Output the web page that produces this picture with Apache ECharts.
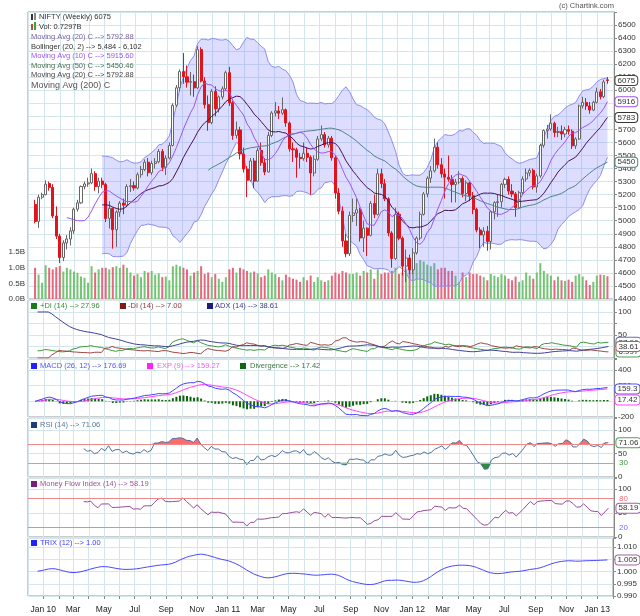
<!DOCTYPE html>
<html><head><meta charset="utf-8">
<script src="https://cdn.jsdelivr.net/npm/echarts@6/dist/echarts.min.js"></script>
<style>html,body{margin:0;padding:0;background:#fff}#c{width:640px;height:616px}</style>
</head><body><div id="c"></div>
<script>
// ---- weekly data (week start dates) ----
const dates = [
'2009-12-14','2009-12-21','2009-12-28',
'2010-01-04','2010-01-11','2010-01-18','2010-01-25','2010-02-01','2010-02-08','2010-02-15','2010-02-22','2010-03-01','2010-03-08','2010-03-15','2010-03-22','2010-03-29','2010-04-05','2010-04-12','2010-04-19','2010-04-26','2010-05-03','2010-05-10','2010-05-17','2010-05-24','2010-05-31','2010-06-07','2010-06-14','2010-06-21','2010-06-28','2010-07-05','2010-07-12','2010-07-19','2010-07-26','2010-08-02','2010-08-09','2010-08-16','2010-08-23','2010-08-30','2010-09-06','2010-09-13','2010-09-20','2010-09-27','2010-10-04','2010-10-11','2010-10-18','2010-10-25','2010-11-01','2010-11-08','2010-11-15','2010-11-22','2010-11-29','2010-12-06','2010-12-13','2010-12-20','2010-12-27',
'2011-01-03','2011-01-10','2011-01-17','2011-01-24','2011-01-31','2011-02-07','2011-02-14','2011-02-21','2011-02-28','2011-03-07','2011-03-14','2011-03-21','2011-03-28','2011-04-04','2011-04-11','2011-04-18','2011-04-25','2011-05-02','2011-05-09','2011-05-16','2011-05-23','2011-05-30','2011-06-06','2011-06-13','2011-06-20','2011-06-27','2011-07-04','2011-07-11','2011-07-18','2011-07-25','2011-08-01','2011-08-08','2011-08-15','2011-08-22','2011-08-29','2011-09-05','2011-09-12','2011-09-19','2011-09-26','2011-10-03','2011-10-10','2011-10-17','2011-10-24','2011-10-31','2011-11-07','2011-11-14','2011-11-21','2011-11-28','2011-12-05','2011-12-12','2011-12-19','2011-12-26',
'2012-01-02','2012-01-09','2012-01-16','2012-01-23','2012-01-30','2012-02-06','2012-02-13','2012-02-20','2012-02-27','2012-03-05','2012-03-12','2012-03-19','2012-03-26','2012-04-02','2012-04-09','2012-04-16','2012-04-23','2012-04-30','2012-05-07','2012-05-14','2012-05-21','2012-05-28','2012-06-04','2012-06-11','2012-06-18','2012-06-25','2012-07-02','2012-07-09','2012-07-16','2012-07-23','2012-07-30','2012-08-06','2012-08-13','2012-08-20','2012-08-27','2012-09-03','2012-09-10','2012-09-17','2012-09-24','2012-10-01','2012-10-08','2012-10-15','2012-10-22','2012-10-29','2012-11-05','2012-11-12','2012-11-19','2012-11-26','2012-12-03','2012-12-10','2012-12-17','2012-12-24','2012-12-31',
'2013-01-07','2013-01-14','2013-01-21'];

const open = [
5125,4995,5180,5200,5285,5255,5036,4882,4718,4830,
4860,4922,5088,5137,5262,5282,5290,5361,5262,5304,
5278,5018,5094,4931,5066,5135,5119,5262,5269,5251,
5353,5393,5449,5368,5439,5452,5531,5409,5480,5577,
5885,6019,6143,6103,6062,6066,6018,6312,6071,5890,
5752,5992,5857,5949,6011,6135,5904,5654,5696,5512,
5396,5310,5458,5303,5538,5445,5374,5654,5826,5842,
5824,5851,5749,5551,5544,5486,5476,5517,5486,5366,
5471,5627,5660,5581,5633,5482,5212,5073,4845,4747,
5040,5059,5084,4868,4943,4888,5132,5049,5360,5284,
5168,4906,4710,5050,4866,4652,4714,4624,4754,4867,
5049,5205,5326,5382,5564,5429,5359,5334,5318,5278,
5296,5323,5208,5290,5191,5087,4929,4891,4920,4841,
5068,5139,5146,5279,5317,5227,5205,5100,5215,5320,
5366,5387,5259,5343,5578,5691,5703,5747,5676,5684,
5665,5698,5686,5574,5627,5880,5907,5880,5848,5908,
5988,5951,6080];
const high = [
5160,5200,5215,5310,5300,5280,5110,4900,4850,4890,
4950,5100,5160,5270,5300,5330,5400,5380,5330,5330,
5290,5150,5100,5080,5150,5170,5280,5320,5300,5370,
5420,5470,5480,5460,5480,5550,5550,5500,5600,5900,
6040,6160,6285,6190,6140,6120,6338,6330,6100,5960,
6010,6030,5960,6030,6150,6180,5920,5760,5720,5560,
5420,5480,5480,5560,5600,5480,5680,5840,5910,5880,
5945,5860,5760,5600,5560,5520,5600,5560,5500,5500,
5650,5730,5680,5650,5650,5500,5250,5110,4900,5070,
5170,5170,5100,5000,4950,5150,5200,5400,5400,5320,
5180,4920,5100,5070,4880,4780,4740,4790,4880,5070,
5220,5340,5420,5630,5600,5480,5400,5500,5350,5320,
5380,5340,5310,5300,5220,5100,4950,4950,4960,5080,
5150,5200,5290,5330,5340,5280,5220,5230,5340,5400,
5400,5400,5360,5590,5700,5735,5815,5760,5720,5730,
5720,5730,5700,5640,5890,5950,5940,5910,5920,6020,
6010,6080,6101];
const low = [
4980,4945,5165,5195,5230,5020,4860,4675,4690,4780,
4810,4900,5070,5130,5240,5260,5280,5230,5210,5250,
4990,4940,4786,4800,5030,5050,5110,5220,5230,5240,
5330,5380,5340,5350,5400,5440,5380,5350,5470,5570,
5870,5990,6050,6020,5960,5950,6010,6060,5860,5690,
5740,5800,5830,5930,6000,5880,5620,5630,5470,5370,
5180,5300,5250,5300,5420,5350,5370,5640,5800,5780,
5810,5720,5530,5450,5330,5400,5460,5450,5200,5340,
5460,5610,5560,5560,5460,5170,5050,4800,4720,4730,
4990,4960,4840,4760,4730,4880,5020,5040,5250,5150,
4880,4640,4700,4850,4580,4531,4590,4590,4740,4850,
5040,5180,5290,5370,5400,5330,5170,5300,5140,5140,
5280,5180,5150,5150,5050,4910,4790,4800,4770,4780,
5010,5030,5100,5250,5200,5180,5030,5090,5200,5300,
5340,5240,5215,5330,5560,5630,5690,5640,5640,5620,
5640,5660,5550,5550,5620,5860,5850,5820,5840,5900,
5930,5940,6050];
const close = [
4995,5180,5200,5280,5255,5036,4882,4718,4830,4860,
4922,5088,5137,5262,5282,5290,5361,5262,5304,5278,
5018,5094,4931,5066,5135,5119,5262,5269,5251,5353,
5393,5449,5368,5439,5452,5531,5409,5480,5577,5885,
6019,6143,6103,6062,6066,6018,6312,6071,5890,5752,
5992,5857,5949,6011,6135,5904,5654,5696,5512,5396,
5310,5458,5303,5538,5445,5374,5654,5826,5842,5824,
5851,5749,5551,5544,5486,5476,5517,5486,5366,5471,
5627,5660,5581,5633,5482,5212,5073,4845,4747,5040,
5059,5084,4868,4943,4888,5132,5049,5360,5284,5168,
4906,4710,5050,4866,4652,4714,4624,4754,4867,5049,
5205,5326,5382,5564,5429,5359,5334,5318,5278,5296,
5323,5208,5290,5191,5087,4929,4891,4920,4841,5068,
5139,5146,5279,5317,5227,5205,5100,5215,5320,5366,
5387,5259,5343,5578,5691,5703,5747,5676,5684,5665,
5698,5686,5574,5627,5880,5907,5880,5848,5908,5988,
5951,6064,6075];
// volume in billions
const volume = [
1.00,0.78,0.52,1.08,1.00,0.95,1.02,1.06,0.88,1.00,
0.95,0.88,0.84,0.72,0.68,0.52,1.05,0.85,0.95,1.00,
1.00,0.95,1.02,1.05,1.00,1.10,1.00,0.85,0.75,0.80,
0.70,0.90,0.85,0.90,0.78,0.82,0.70,0.72,0.60,1.05,
1.10,1.05,1.00,0.95,0.75,0.85,0.90,1.05,0.80,0.85,
0.70,0.80,0.65,0.55,0.70,0.95,1.00,0.85,1.00,0.95,
0.90,0.85,0.88,0.82,0.70,0.75,0.95,0.85,0.80,0.70,
0.60,0.78,0.70,0.65,0.62,0.55,0.70,0.60,0.75,0.55,
0.70,0.60,0.55,0.60,0.75,0.85,0.80,0.90,0.85,0.80,
0.80,0.85,0.75,0.90,0.85,0.95,0.65,0.95,0.80,0.85,
0.85,0.90,1.00,0.80,0.85,0.95,1.00,1.05,1.15,1.25,
1.20,1.10,1.05,1.15,0.95,1.00,1.00,0.90,0.90,0.75,
0.55,0.85,0.70,0.85,0.80,0.80,0.75,0.70,0.60,0.80,
0.75,0.70,0.80,0.75,0.65,0.60,0.72,0.55,0.60,0.85,
0.75,0.65,0.85,1.15,0.90,0.80,0.75,0.60,0.72,0.60,
0.58,0.62,0.55,0.75,0.80,0.72,0.60,0.45,0.55,0.75,
0.78,0.77,0.73];

const monthNames = ['Jan','Feb','Mar','Apr','May','Jun','Jul','Aug','Sep','Oct','Nov','Dec'];
const mainLegend = ['NIFTY (Weekly) 6075','Vol: 0.7297B','Moving Avg (20) C --> 5792.88','Bollinger (20, 2) --> 5,484 - 6,102','Moving Avg (10) C --> 5915.60','Moving Avg (50) C --> 5450.46','Moving Avg (20) C --> 5792.88','Moving Avg (200) C'];
const diLegend = ['+DI (14) --> 27.96','-DI (14) --> 7.00','ADX (14) --> 38.61'];
const macdLegend = ['MACD (26, 12) --> 176.69','EXP (9) --> 159.27','Divergence --> 17.42'];
const rsiLegend = 'RSI (14) --> 71.06';
const mfiLegend = 'Money Flow Index (14) --> 58.19';
const trixLegend = 'TRIX (12) --> 1.00';
const tagText = {close:'6075', ma10:'5916', ma20:'5783', ma50:'5450', adx:'38.61', pdi:'27.96', mdi:'6.997', exp:'159.3', div:'17.42', rsi:'71.06', mfi:'58.19', trix:'1.005'};

// ---- studies derived from the OHLCV above ----
function sma(a,n){return a.map((v,i)=>i<n-1?null:a.slice(i-n+1,i+1).reduce((s,x)=>s+x,0)/n);}
function ema(a,n){const k=2/(n+1);let e=null;return a.map(v=>{if(v==null)return null;e=e==null?v:e+k*(v-e);return e;});}
const N = close.length;
const ma10=sma(close,10), ma20=sma(close,20), ma50=sma(close,50);
const sd20=close.map((v,i)=>i<19?null:Math.sqrt(close.slice(i-19,i+1).reduce((s,x)=>s+(x-ma20[i])*(x-ma20[i]),0)/20));
const bbLo=ma20.map((m,i)=>m==null?null:m-2*sd20[i]);
const bbSpan=ma20.map((m,i)=>m==null?null:4*sd20[i]);
const e12=ema(close,12), e26=ema(close,26);
const macd=close.map((v,i)=>e12[i]-e26[i]);
const sig=ema(macd,9);
const div=macd.map((v,i)=>v-sig[i]);
function rsiCalc(c,n){return c.map((v,i)=>{if(i<n)return null;let g=0,l=0;
 for(let j=i-n+1;j<=i;j++){const d=c[j]-c[j-1];if(d>0)g+=d;else l-=d;}
 return (g+l)===0?50:100*g/(g+l);});}
const rsi=rsiCalc(close,14);
const tp=close.map((c,i)=>(high[i]+low[i]+c)/3);
const mfi=tp.map((t,i)=>{if(i<14)return null;let p=0,q=0;for(let j=i-13;j<=i;j++){const f=tp[j]*volume[j];if(tp[j]>tp[j-1])p+=f;else if(tp[j]<tp[j-1])q+=f;}return q===0?100:100-100/(1+p/q);});
const pdi=Array(N).fill(null), mdi=Array(N).fill(null), adx=Array(N).fill(null);
(function(){let sT=null,sP=null,sM=null,sA=null;const n=14;
 for(let i=1;i<N;i++){const up=high[i]-high[i-1],dn=low[i-1]-low[i];
  const p=(up>dn&&up>0)?up:0,m=(dn>up&&dn>0)?dn:0;
  const tr=Math.max(high[i]-low[i],Math.abs(high[i]-close[i-1]),Math.abs(low[i]-close[i-1]));
  sT=sT==null?tr:sT+(tr-sT)/n; sP=sP==null?p:sP+(p-sP)/n; sM=sM==null?m:sM+(m-sM)/n;
  pdi[i]=100*sP/sT; mdi[i]=100*sM/sT;
  const dx=(pdi[i]+mdi[i])===0?0:100*Math.abs(pdi[i]-mdi[i])/(pdi[i]+mdi[i]);
  sA=sA==null?dx:sA+(dx-sA)/n; adx[i]=sA;}})();
const t3=ema(ema(ema(close,12),12),12);
const trix=t3.map((v,i)=>i===0?null:v/t3[i-1]);
const rsiHi=rsi.map(v=>v==null?null:Math.max(v,70));
const rsiLo=rsi.map(v=>v==null?null:Math.min(v,30));

// ---- chart ----
const FONT='Liberation Sans, Arial, sans-serif';
const GRIDC='#d5e5ec';
const L=a=>a.map((v,i)=>[dates[i],v==null?'-':v]);
function tag(text,border){return {show:true,formatter:text,backgroundColor:'#fff',borderColor:border,borderWidth:1,borderRadius:3,padding:[1,2,0,2],fontSize:8,fontFamily:FONT,color:'#333',distance:8};}
function line(xi,yi,data,color,extra){return Object.assign({type:'line',xAxisIndex:xi,yAxisIndex:yi,data:L(data),symbol:'none',silent:true,animation:false,lineStyle:{color:color,width:1},itemStyle:{color:color},z:4},extra||{});}
const hidden={color:'rgba(0,0,0,0)',width:0};

const grids=[
 {left:28,right:26,top:12,height:287},
 {left:28,right:26,top:300,height:58},
 {left:28,right:26,top:359,height:58},
 {left:28,right:26,top:418,height:59},
 {left:28,right:26,top:478,height:59},
 {left:28,right:26,top:538,height:58}
].map(g=>Object.assign(g,{show:true,borderColor:'#999',borderWidth:1,backgroundColor:'#fff'}));

function xFmt(v){const d=new Date(v);const m=d.getMonth();if(m%2===1)return '';return m===0?('Jan '+String(d.getFullYear()).slice(2)):monthNames[m];}
const xAxes=grids.map((g,gi)=>({type:'time',gridIndex:gi,min:'2009-12-02',max:'2013-02-01',splitNumber:38,minInterval:28*864e5,maxInterval:31*864e5,
 axisLine:{show:false},axisTick:{show:gi===5,length:3,lineStyle:{color:'#888'}},
 axisLabel:{show:gi===5,formatter:xFmt,fontSize:8.5,color:'#222',fontFamily:FONT,margin:9,hideOverlap:false},
 splitLine:{show:true,lineStyle:{color:GRIDC,width:1}}}));
function yAx(gi,o){return Object.assign({type:'value',gridIndex:gi,position:'right',
 axisLine:{show:true,lineStyle:{color:'#888'}},axisTick:{show:true,length:3,lineStyle:{color:'#888'}},
 splitLine:{show:true,lineStyle:{color:GRIDC}}},o);}
const lab=(f)=>({fontSize:8,color:'#333',fontFamily:FONT,margin:4,formatter:f});
const yAxes=[
 yAx(0,{min:4400,max:6600,interval:100,axisLabel:lab(v=>v>6500?'':String(v))}),
 {type:'value',gridIndex:0,position:'left',min:0,max:9.2,interval:0.5,axisLine:{show:false},axisTick:{show:false},splitLine:{show:false},
  axisLabel:{fontSize:8,color:'#333',fontFamily:FONT,margin:3,formatter:v=>v<=1.5?v.toFixed(1)+'B':''}},
 yAx(1,{min:0,max:126,interval:25,axisLabel:lab(v=>(v===50||v===100)?String(v):'')}),
 yAx(2,{min:-200,max:540,interval:200,axisLabel:lab(v=>v>400?'':String(v))}),
 yAx(3,{min:0,max:125,interval:50,axisLabel:lab(v=>v>100?'':String(v))}),
 yAx(4,{min:0,max:123,interval:50,axisLabel:lab(v=>v>100?'':String(v))}),
 yAx(5,{min:0.99,max:1.0137,interval:0.005,axisLabel:lab(v=>v>1.0101?'':v.toFixed(3))})
];

const series=[];
// volume
series.push({type:'bar',xAxisIndex:0,yAxisIndex:1,barWidth:2,z:1,silent:true,animation:false,
 data:volume.map((v,i)=>({value:[dates[i],v],itemStyle:{color:close[i]>=open[i]?'#74c474':'#e6687e'}}))});
// bollinger band
series.push(line(0,0,bbLo,'#8d8df0',{stack:'bb',z:2}));
series.push(line(0,0,bbSpan,'#8d8df0',{stack:'bb',z:2,areaStyle:{color:'rgba(110,110,255,0.33)'}}));
// candles
series.push({type:'candlestick',xAxisIndex:0,yAxisIndex:0,z:3,barWidth:2.6,silent:true,animation:false,
 data:dates.map((d,i)=>[d,open[i],close[i],low[i],high[i]]),
 itemStyle:{color:'#ffffff',color0:'#e0141c',borderColor:'#666666',borderColor0:'#e0141c',borderWidth:1}});
// moving averages
series.push(line(0,0,ma50,'#4f8585',{endLabel:tag(tagText.ma50,'#4f8585')}));
series.push(line(0,0,ma20,'#4a0f58',{endLabel:tag(tagText.ma20,'#333')}));
series.push(line(0,0,ma10,'#9b55f0',{endLabel:tag(tagText.ma10,'#9b55f0')}));
series.push(line(0,0,close,'#333',{lineStyle:hidden,z:6,endLabel:tag(tagText.close,'#444')}));
// DI / ADX
series.push(line(1,2,pdi,'#3c9a3c',{endLabel:tag(tagText.pdi,'#6070c0')}));
series.push(line(1,2,mdi,'#a04444',{endLabel:tag(tagText.mdi,'#50a050')}));
series.push(line(1,2,adx,'#40409a',{endLabel:tag(tagText.adx,'#b06060')}));
// MACD
series.push({type:'bar',xAxisIndex:2,yAxisIndex:3,barWidth:2,z:3,silent:true,animation:false,data:L(div),itemStyle:{color:'#0a640a'}});
series.push(line(2,3,sig,'#ff44ff'));
series.push(line(2,3,macd,'#4444ff'));
series.push(line(2,3,sig,'#ff44ff',{lineStyle:hidden,z:6,endLabel:tag(tagText.exp,'#5050ff')}));
series.push(line(2,3,div,'#ff44ff',{lineStyle:hidden,z:6,endLabel:tag(tagText.div,'#ff44ff')}));
// RSI
series.push(line(3,4,rsiHi,'#ff6a6a',{lineStyle:hidden,z:2,areaStyle:{color:'#ff6a6a',origin:70,opacity:1}}));
series.push(line(3,4,rsiLo,'#2f8a3a',{lineStyle:hidden,z:2,areaStyle:{color:'#2f8a3a',origin:30,opacity:1}}));
series.push(line(3,4,rsi,'#4f72a0',{endLabel:tag(tagText.rsi,'#50a050'),
 markLine:{silent:true,symbol:'none',animation:false,lineStyle:{type:'solid',width:1},
  data:[{yAxis:70,lineStyle:{color:'#f08a8a'},label:{show:false}},
        {yAxis:30,lineStyle:{color:'#8fbf8f'},label:{show:true,position:'end',formatter:'30',color:'#3a9a3a',fontSize:8,fontFamily:FONT}}]}}));
// MFI
series.push(line(4,5,mfi,'#9a4a9a',{endLabel:tag(tagText.mfi,'#a060a0'),
 markLine:{silent:true,symbol:'none',animation:false,lineStyle:{type:'solid',width:1},
  data:[{yAxis:80,lineStyle:{color:'#f08a8a'},label:{show:true,position:'end',formatter:'80',color:'#f07070',fontSize:8,fontFamily:FONT}},
        {yAxis:20,lineStyle:{color:'#9a9aff'},label:{show:true,position:'end',formatter:'20',color:'#7070ff',fontSize:8,fontFamily:FONT}}]}}));
// TRIX
series.push(line(5,6,trix,'#4848ff',{endLabel:tag(tagText.trix,'#a060a0')}));

// ---- legends (text) ----
const g=[];
function txt(x,y,t,fill,size){g.push({type:'text',x:x,y:y,z:100,silent:true,style:{text:t,fill:fill,fontSize:size||7.5,fontFamily:FONT,verticalAlign:'middle'}});}
function sq(x,y,fill,w,h){g.push({type:'rect',z:100,silent:true,shape:{x:x,y:y,width:w||6,height:h||6},style:{fill:fill}});}
txt(614,6,'(c) Chartink.com','#555',7.5); g[g.length-1].style.align='right';
sq(31,14,'#333',2,6); sq(34,13,'#888',2,7);
txt(39,17,mainLegend[0],'#333');
sq(31,24,'#c44',2,6); sq(34,22,'#3a3',2,8);
txt(39,27,mainLegend[1],'#333');
txt(31,37,mainLegend[2],'#7b5e9e');
txt(31,46.5,mainLegend[3],'#333');
txt(31,56,mainLegend[4],'#9b55f0');
txt(31,65.5,mainLegend[5],'#4e6e4e');
txt(31,75,mainLegend[6],'#444');
txt(31,85.5,mainLegend[7],'#555',9);
sq(31,303,'#1c7a1c'); txt(40,306,diLegend[0],'#3a8a3a');
sq(120,303,'#7a1c1c'); txt(128,306,diLegend[1],'#8a3a3a');
sq(207,303,'#1c1c7a'); txt(215,306,diLegend[2],'#3a3a8a');
sq(31,363,'#2222ff'); txt(40,366,macdLegend[0],'#5555ff');
sq(147,363,'#ff22ff'); txt(157,366,macdLegend[1],'#ff55ff');
sq(240,363,'#116611'); txt(250,366,macdLegend[2],'#447744');
sq(31,422,'#1c3c7a'); txt(40,425,rsiLegend,'#557799');
sq(31,481,'#7a1c7a'); txt(40,484,mfiLegend,'#995599');
sq(31,540,'#2222ff'); txt(40,543,trixLegend,'#4444ff');

const chart=echarts.init(document.getElementById('c'),null,{renderer:'canvas'});
chart.setOption({animation:false,backgroundColor:'#fff',textStyle:{fontFamily:FONT},
 grid:grids,xAxis:xAxes,yAxis:yAxes,series:series,graphic:g});
</script>
</body></html>
